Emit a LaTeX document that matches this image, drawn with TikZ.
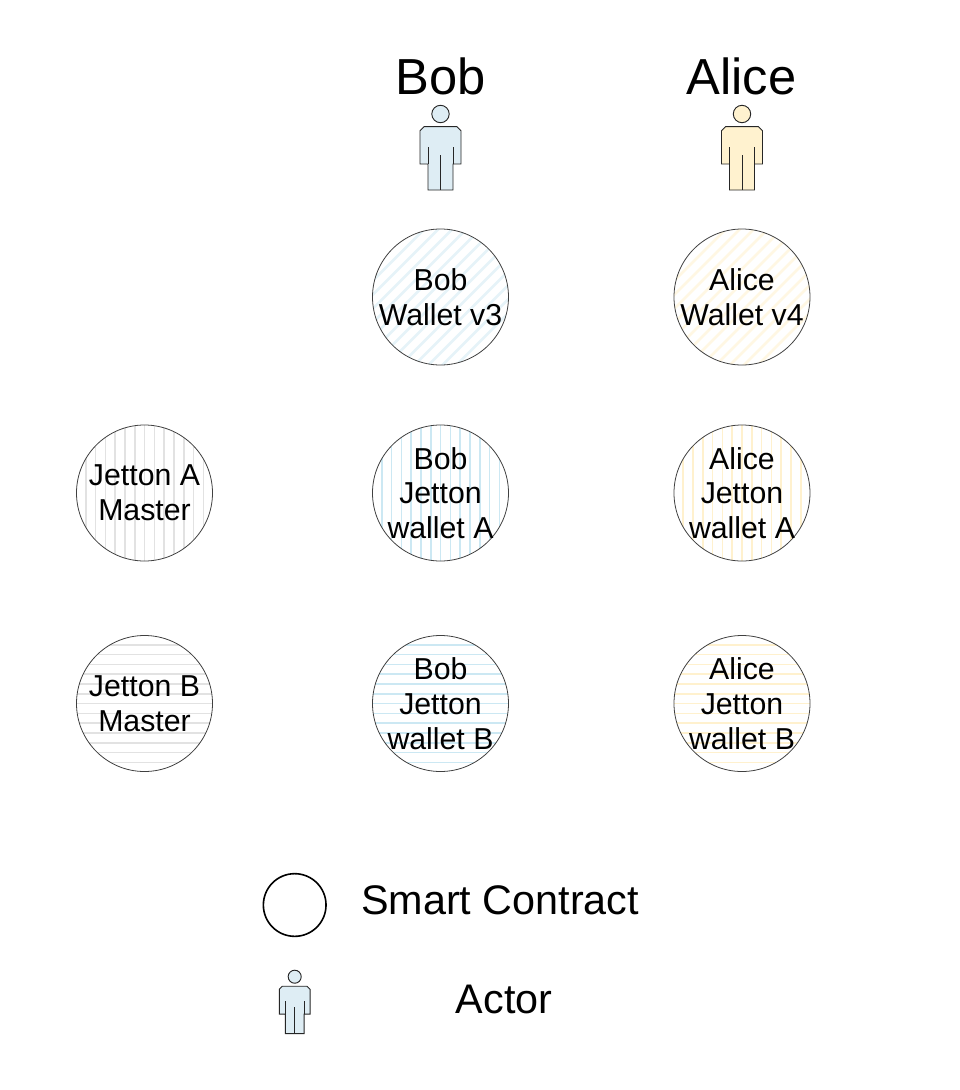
\documentclass[tikz,border=0pt]{standalone}
\usepackage{fontspec}
\setmainfont{Liberation Sans}
\usetikzlibrary{calc}

\definecolor{bobfill}{HTML}{DEEDF4}
\definecolor{alicefill}{HTML}{FFF2CF}
\definecolor{bobhatch}{HTML}{CCE8F3}
\definecolor{alicehatch}{HTML}{FFF1CE}
\definecolor{masterhatch}{HTML}{E2E2E2}
\definecolor{bobdiag}{HTML}{E6F3F8}
\definecolor{alicediag}{HTML}{FFF7E3}

\tikzset{
  contract/.style={circle,draw=black!75,line width=0.6pt,minimum size=102pt,inner sep=-10pt,align=center,
    font=\fontsize{22.7}{26.1}\selectfont},
  hatchv/.style={path picture={
    \foreach \k in {-7,...,7}
      \draw[#1,line width=1.2pt] ($(path picture bounding box.center)+(\k*9.8,-70)$) -- ++(0,140);}},
  hatchh/.style={path picture={
    \foreach \k in {-7,...,7}
      \draw[#1,line width=1.2pt] ($(path picture bounding box.center)+(-70,\k*9.8)$) -- ++(140,0);}},
  hatchd/.style={path picture={
    \foreach \k in {-7,...,7}
      \draw[#1,line width=2pt] ($(path picture bounding box.center)+(\k*14-70,70)$) -- ++(140,-140);}},
  title/.style={font=\fontsize{38}{42}\selectfont},
  legend/.style={font=\fontsize{31}{35}\selectfont},
  pics/actor/.style={code={
    \draw[black!85,line width=0.7pt,fill=#1] (0,0) circle (8.7);
    \draw[black!85,line width=0.7pt,fill=#1] (-16.5,12.7) -- (16.5,12.7) -- (20.5,16.7) -- (20.5,50)
      -- (12.5,50) -- (12.5,76) -- (-12.5,76) -- (-12.5,50) -- (-20.5,50) -- (-20.5,16.7) -- cycle;
    \draw[black!85,line width=0.7pt] (-12.5,33) -- (-12.5,50) (12.5,33) -- (12.5,50) (0,41) -- (0,76);
  }},
}

\begin{document}
\begin{tikzpicture}[x=0.75pt,y=-0.75pt]
  \useasboundingbox (0,0) rectangle (960,1090);

  \node[title] (bobname) at (440.5,76.5) {Bob};
  \node[title] (alicename) at (741.5,76.5) {Alice};

  \pic at (440.5,114) {actor=bobfill};
  \pic at (742,114) {actor=alicefill};

  \node[contract,hatchd=bobdiag] (bobwallet) at (440.5,297) {Bob\\Wallet v3};
  \node[contract,hatchd=alicediag] (alicewallet) at (742,297) {Alice\\Wallet v4};

  \node[contract,hatchv=masterhatch] (mastera) at (144.5,493) {Jetton A\\Master};
  \node[contract,hatchv=bobhatch] (bobjettona) at (440.5,493) {Bob\\Jetton\\wallet A};
  \node[contract,hatchv=alicehatch] (alicejettona) at (742,493) {Alice\\Jetton\\wallet A};

  \node[contract,hatchh=masterhatch] (masterb) at (144.5,703.5) {Jetton B\\Master};
  \node[contract,hatchh=bobhatch] (bobjettonb) at (440.5,703.5) {Bob\\Jetton\\wallet B};
  \node[contract,hatchh=alicehatch] (alicejettonb) at (742,703.5) {Alice\\Jetton\\wallet B};

  % legend
  \node[circle,draw=black,line width=1.2pt,minimum size=47pt,inner sep=0pt] (legendcircle) at (294.7,905) {};
  \node[legend] (legendcontract) at (500,900.5) {Smart Contract};
  \pic[scale=0.75] at (294.7,976.7) {actor=bobfill};
  \node[legend] (legendactor) at (504,999.5) {Actor};
\end{tikzpicture}
\end{document}
